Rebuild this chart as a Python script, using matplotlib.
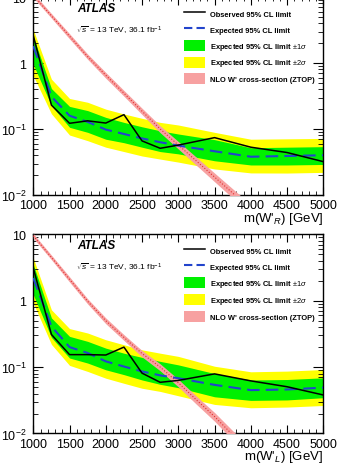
import matplotlib.pyplot as plt
from matplotlib.lines import Line2D
from matplotlib.patches import Patch
import numpy as np

plt.rcParams["font.family"] = ["Liberation Sans", "DejaVu Sans"]
plt.rcParams["mathtext.fontset"] = "custom"
plt.rcParams["mathtext.rm"] = "Liberation Sans"
plt.rcParams["mathtext.it"] = "Liberation Sans:italic"
plt.rcParams["mathtext.bf"] = "Liberation Sans:bold"

# ==========================
# data
# ==========================

mass = [1000, 1250, 1500, 1750, 2000, 2250, 2500, 2750, 3000, 3500, 4000, 4500, 5000]

# W'_R
obs_R = [2.6, 0.23, 0.122, 0.133, 0.123, 0.165, 0.066, 0.051, 0.057, 0.074, 0.053, 0.044, 0.032]
exp_R = [1.8, 0.31, 0.159, 0.128, 0.098, 0.084, 0.072, 0.063, 0.056, 0.046, 0.038, 0.039, 0.040]
g_hi_R = [2.5, 0.41, 0.22, 0.19, 0.15, 0.126, 0.108, 0.094, 0.084, 0.069, 0.052, 0.053, 0.054]
g_lo_R = [0.95, 0.226, 0.106, 0.089, 0.07, 0.062, 0.053, 0.0455, 0.042, 0.033, 0.0285, 0.0285, 0.029]
y_hi_R = [3.2, 0.57, 0.29, 0.254, 0.2, 0.169, 0.145, 0.126, 0.115, 0.089, 0.07, 0.071, 0.072]
y_lo_R = [0.64, 0.17, 0.081, 0.0665, 0.053, 0.0455, 0.039, 0.035, 0.0315, 0.0248, 0.0216, 0.0215, 0.022]

# W'_L
obs_L = [3.1, 0.31, 0.154, 0.154, 0.152, 0.2, 0.081, 0.059, 0.063, 0.079, 0.062, 0.0506, 0.038]
exp_L = [2.2, 0.41, 0.2, 0.163, 0.122, 0.102, 0.086, 0.075, 0.068, 0.054, 0.045, 0.046, 0.049]
g_hi_L = [3.5, 0.55, 0.29, 0.244, 0.193, 0.162, 0.14, 0.122, 0.108, 0.08, 0.064, 0.065, 0.069]
g_lo_L = [1.23, 0.28, 0.137, 0.115, 0.091, 0.077, 0.064, 0.055, 0.049, 0.0357, 0.0315, 0.032, 0.0346]
y_hi_L = [4.4, 0.73, 0.38, 0.326, 0.258, 0.217, 0.182, 0.162, 0.145, 0.103, 0.085, 0.087, 0.092]
y_lo_L = [0.92, 0.22, 0.106, 0.086, 0.068, 0.057, 0.048, 0.043, 0.037, 0.0274, 0.0244, 0.025, 0.0264]

# NLO W' cross-section (ZTOP)
mass_th = [1000, 1250, 1500, 1750, 2000, 2250, 2500, 2750, 3000, 3250, 3500, 3750, 4000]
xs_R = [10.6, 5.2, 2.55, 1.25, 0.653, 0.349, 0.186, 0.1, 0.0572, 0.0327, 0.0187, 0.0107, 0.0061]
xs_L = [9.5, 4.5, 2.1, 0.98, 0.5, 0.28, 0.16, 0.1, 0.058, 0.032, 0.018, 0.0095, 0.0053]
xs_err = [0.08, 0.08, 0.09, 0.09, 0.1, 0.1, 0.11, 0.12, 0.13, 0.14, 0.15, 0.16, 0.17]

GREEN = "#00f000"
YELLOW = "#ffff00"
PINK = "#f7a1a1"
BLUE = "#2244cc"


def draw_panel(ax, obs, exp, g_lo, g_hi, y_lo, y_hi, xs, xlabel):
    xs = np.array(xs)
    err = np.array(xs_err)

    ax.fill_between(mass, y_lo, y_hi, color=YELLOW, lw=0, zorder=1)
    ax.fill_between(mass, g_lo, g_hi, color=GREEN, lw=0, zorder=2)
    ax.fill_between(mass_th, xs * (1 - err), xs * (1 + err), color=PINK, lw=0, zorder=3)
    ax.plot(mass_th, xs, color="#e03030", lw=0.8, ls=":", zorder=4)
    ax.plot(mass, exp, color=BLUE, lw=1.5, ls=(0, (6, 3)), zorder=5)
    ax.plot(mass, obs, color="black", lw=1.1, zorder=6)

    ax.set_yscale("log")
    ax.set_xlim(1000, 5000)
    ax.set_ylim(0.01, 10)
    ax.set_xticks(range(1000, 5001, 500))
    ax.set_xticks(range(1000, 5001, 100), minor=True)
    ax.set_yticks([0.01, 0.1, 1, 10])
    ax.set_yticklabels([r"$10^{-2}$", r"$10^{-1}$", "1", "10"])

    ax.tick_params(which="both", direction="in", top=True, right=True, labelsize=9)
    ax.tick_params(axis="y", which="major", length=7, pad=5)
    ax.tick_params(axis="y", which="minor", length=3.5)
    ax.tick_params(axis="x", which="major", length=6, pad=3)
    ax.tick_params(axis="x", which="minor", length=3)
    for s in ax.spines.values():
        s.set_linewidth(1.0)

    ax.set_xlabel(xlabel, fontsize=9.5, ha="right", va="center")
    ax.xaxis.set_label_coords(1.0, -0.115)

    ax.text(0.15, 0.945, "ATLAS", transform=ax.transAxes, fontsize=8.5,
            fontweight="bold", fontstyle="italic", va="center")
    ax.text(0.147, 0.835, r"$\sqrt{s}$ = 13 TeV, 36.1 fb$^{-1}$",
            transform=ax.transAxes, fontsize=6, va="center")

    handles = [
        Line2D([], [], color="black", lw=1.1),
        Line2D([], [], color=BLUE, lw=1.5, ls=(0, (4, 2))),
        Patch(color=GREEN, lw=0),
        Patch(color=YELLOW, lw=0),
        Patch(color=PINK, lw=0),
    ]
    labels = [
        "Observed 95% CL limit",
        "Expected 95% CL limit",
        r"Expected 95% CL limit $\pm1\sigma$",
        r"Expected 95% CL limit $\pm2\sigma$",
        "NLO W' cross-section (ZTOP)",
    ]
    ax.legend(handles, labels, loc="upper left", bbox_to_anchor=(0.52, 0.946),
              frameon=False, borderpad=0, borderaxespad=0,
              prop={"size": 5.4, "weight": "bold"},
              handlelength=2.8, handleheight=1.87, handletextpad=0.67,
              labelspacing=0.67)


fig = plt.figure(figsize=(3.37, 4.64), dpi=100)

# ==========================
# top panel: W'_R
# ==========================
ax1 = fig.add_axes([0.0988, 0.5776, 0.8606, 0.4267])
draw_panel(ax1, obs_R, exp_R, g_lo_R, g_hi_R, y_lo_R, y_hi_R, xs_R,
           r"m(W'$_{R}$) [GeV]")

# ==========================
# bottom panel: W'_L
# ==========================
ax2 = fig.add_axes([0.0988, 0.0636, 0.8606, 0.4293])
draw_panel(ax2, obs_L, exp_L, g_lo_L, g_hi_L, y_lo_L, y_hi_L, xs_L,
           r"m(W'$_{L}$) [GeV]")

fig.savefig("out.png", dpi=100)
plt.close()
